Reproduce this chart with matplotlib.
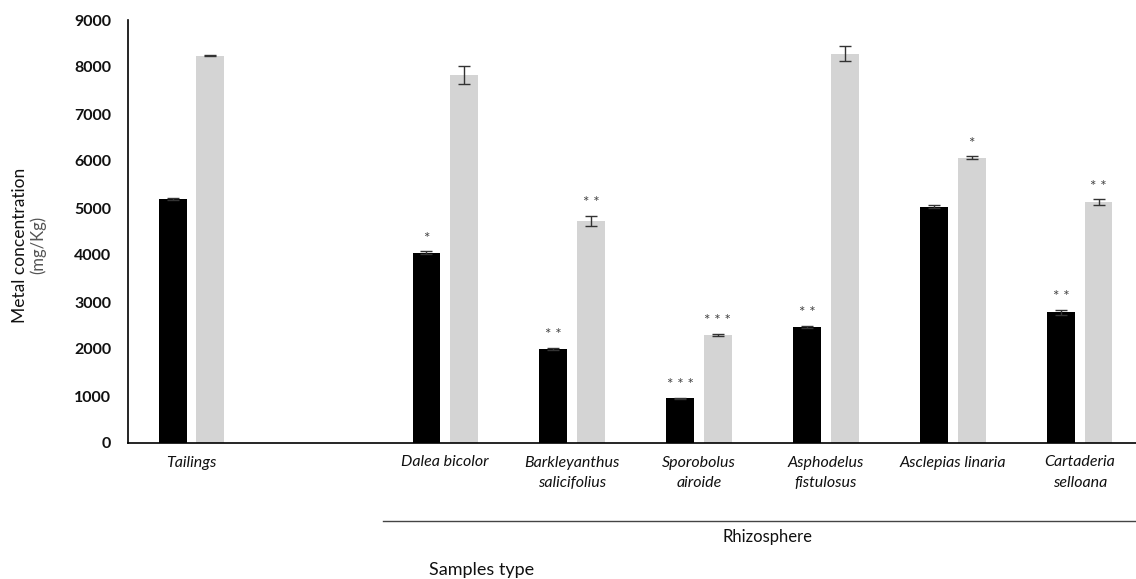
import matplotlib
matplotlib.use("Agg")
import matplotlib.pyplot as plt
from matplotlib.lines import Line2D

plt.rcParams['font.family'] = ['Lato', 'DejaVu Sans']

# sample groups (empty slot between tailings and the rhizosphere samples)
labels = ["Tailings", "", "Dalea bicolor", "Barkleyanthus\nsalicifolius",
          "Sporobolus\nairoide", "Asphodelus\nfistulosus", "Asclepias linaria",
          "Cartaderia\nselloana"]
positions = [0, 2, 3, 4, 5, 6, 7]
black_vals = [5200, 4050, 2000, 950, 2470, 5030, 2780]
black_err = [20, 30, 30, 10, 20, 25, 50]
gray_vals = [8240, 7830, 4720, 2300, 8280, 6070, 5130]
gray_err = [15, 190, 110, 20, 160, 35, 60]
black_stars = ["", "*", "* *", "* * *", "* *", "", "* *"]
gray_stars = ["", "", "* *", "* * *", "", "*", "* *"]

fig = plt.figure(figsize=(11.36, 5.79), dpi=100)
ax = fig.add_axes([128/1136, 136/579, 1008/1136, 423/579])

w = 0.22
off = 0.148
bx = [p - off for p in positions]
gx = [p + off for p in positions]
ekw = dict(ecolor='#333333', elinewidth=1, capsize=4, capthick=1)
ax.bar(bx, black_vals, w, color='black', yerr=black_err, error_kw=ekw)
ax.bar(gx, gray_vals, w, color='#d4d4d4', yerr=gray_err, error_kw=ekw)

for x, v, e, s in zip(bx, black_vals, black_err, black_stars):
    if s:
        ax.annotate(s, (x, v + e), xytext=(0, 4), textcoords='offset points',
                    ha='center', va='bottom', fontsize=11, color='#444444')
for x, v, e, s in zip(gx, gray_vals, gray_err, gray_stars):
    if s:
        ax.annotate(s, (x, v + e), xytext=(0, 4), textcoords='offset points',
                    ha='center', va='bottom', fontsize=11, color='#444444')

ax.set_ylim(0, 9000)
ax.set_xlim(-0.5, -0.5 + 1008/126.9)
ax.set_yticks(range(0, 9001, 1000))
ax.set_xticks(range(len(labels)))
ax.set_xticklabels(labels, style='italic', fontsize=11.5, linespacing=1.6,
                   color='#111111')
for t in ax.get_yticklabels():
    t.set_fontweight('bold')
    t.set_fontsize(11.5)
    t.set_color('#111111')
ax.tick_params(axis='y', length=0, pad=12)
ax.tick_params(axis='x', length=0, pad=9)
for sp in ['top', 'right']:
    ax.spines[sp].set_visible(False)
ax.spines['left'].set_linewidth(1.2)
ax.spines['bottom'].set_linewidth(1.2)

fig.text(20/1136, 1 - 245/579, "Metal concentration", rotation=90,
         ha='center', va='center', fontsize=12.5, color='#111111')
fig.text(38/1136, 1 - 245/579, "(mg/Kg)", rotation=90,
         ha='center', va='center', fontsize=12, color='#555555')

fig.add_artist(Line2D([383/1136, 1.0], [1 - 521/579, 1 - 521/579],
                      color='#444444', linewidth=1))
fig.text(767/1136, 1 - 537/579, "Rhizosphere", ha='center', va='center',
         fontsize=12, color='#111111')
fig.text(482/1136, 1 - 570/579, "Samples type", ha='center', va='center',
         fontsize=13, color='#111111')

fig.savefig("out.png", dpi=100)
